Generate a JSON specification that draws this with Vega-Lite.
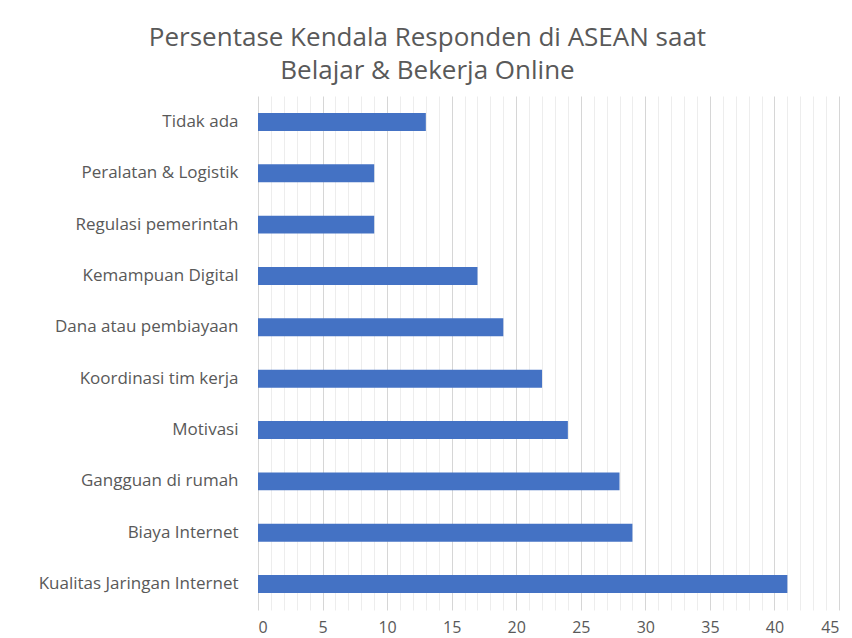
{
  "$schema": "https://vega.github.io/schema/vega-lite/v6.json",
  "width": 581,
  "height": 514,
  "autosize": {"type": "none"},
  "padding": {"left": 258, "top": 96, "right": 13, "bottom": 28},
  "background": "white",
  "title": {
    "text": ["Persentase Kendala Responden di ASEAN saat", "Belajar & Bekerja Online"],
    "fontSize": 26,
    "font": "Open Sans",
    "fontWeight": "normal",
    "color": "#595959",
    "anchor": "middle",
    "frame": "group",
    "dx": -121,
    "offset": 12,
    "lineHeight": 33
  },
  "data": {
    "values": [
      {"kendala": "Tidak ada", "persen": 13},
      {"kendala": "Peralatan & Logistik", "persen": 9},
      {"kendala": "Regulasi pemerintah", "persen": 9},
      {"kendala": "Kemampuan Digital", "persen": 17},
      {"kendala": "Dana atau pembiayaan", "persen": 19},
      {"kendala": "Koordinasi tim kerja", "persen": 22},
      {"kendala": "Motivasi", "persen": 24},
      {"kendala": "Gangguan di rumah", "persen": 28},
      {"kendala": "Biaya Internet", "persen": 29},
      {"kendala": "Kualitas Jaringan Internet", "persen": 41}
    ]
  },
  "mark": {"type": "bar", "color": "#4472C4"},
  "encoding": {
    "y": {
      "field": "kendala",
      "type": "nominal",
      "sort": null,
      "scale": {"paddingInner": 0.65, "paddingOuter": 0.33},
      "axis": {
        "title": null,
        "domain": false,
        "ticks": false,
        "labelPadding": 20,
        "labelFont": "Open Sans",
        "labelFontSize": 17,
        "labelColor": "#595959",
        "labelLimit": 300
      }
    },
    "x": {
      "field": "persen",
      "type": "quantitative",
      "scale": {"domain": [0, 45], "nice": false},
      "axis": {
        "title": null,
        "domain": false,
        "ticks": false,
        "values": [0,1,2,3,4,5,6,7,8,9,10,11,12,13,14,15,16,17,18,19,20,21,22,23,24,25,26,27,28,29,30,31,32,33,34,35,36,37,38,39,40,41,42,43,44,45],
        "labelExpr": "datum.value % 5 === 0 ? datum.label : ''",
        "labelFont": "Open Sans",
        "labelFontSize": 16,
        "labelColor": "#595959",
        "labelPadding": 9,
        "labelOverlap": false,
        "grid": true,
        "gridColor": {"condition": {"test": "datum.value % 5 === 0", "value": "#d6d6d6"}, "value": "#ededed"},
        "gridWidth": 1
      }
    }
  },
  "config": {"view": {"stroke": null}}
}
